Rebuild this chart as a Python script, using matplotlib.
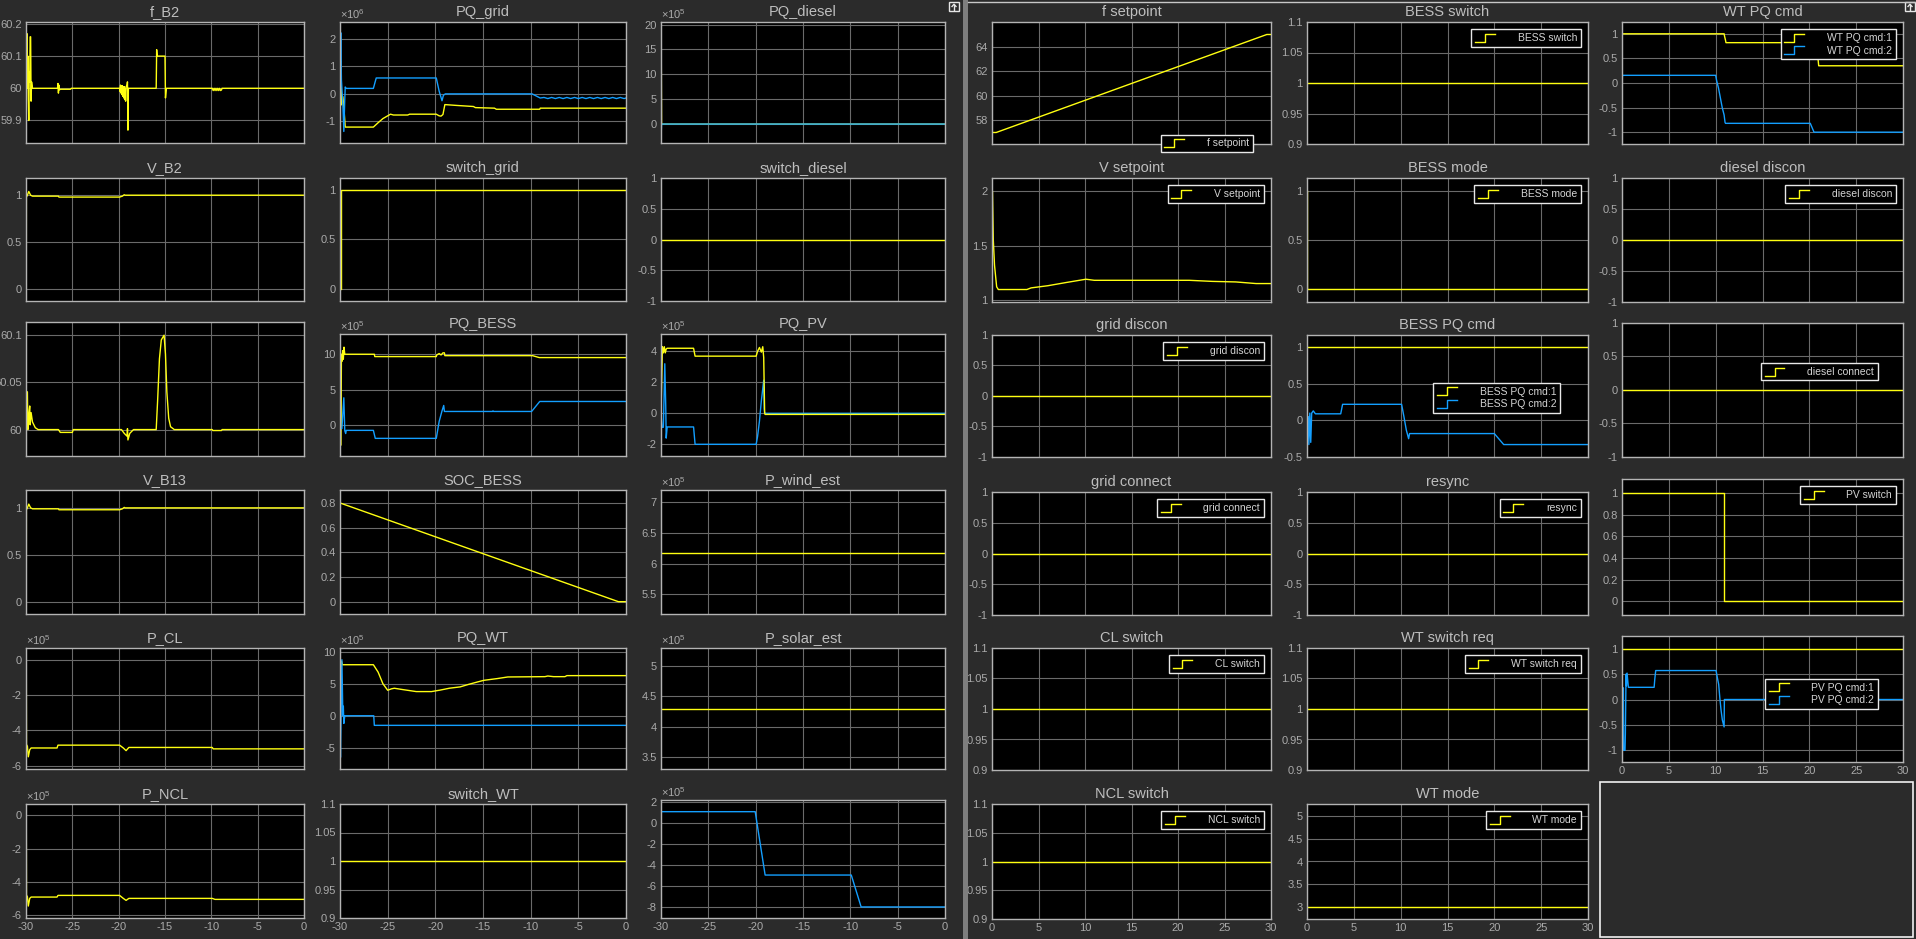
import matplotlib
matplotlib.use("Agg")
import matplotlib.pyplot as plt
from matplotlib.lines import Line2D
from matplotlib.legend_handler import HandlerBase
from matplotlib.patches import Rectangle
from matplotlib.ticker import FuncFormatter

plt.rcParams["font.family"] = ["Liberation Sans", "DejaVu Sans"]

W, H = 1916, 939
BG = "#2b2b2b"
YEL = "#ffff11"
BLU = "#139fff"
GRID = "#6a6a6a"
SPINE = "#b4b4b4"
TICK = "#aaaaaa"
TITLE = "#bebebe"

# ---------------- left scope (t = -30 .. 0) ----------------
f_b2_t = [-30.0, -29.95, -29.9, -29.85, -29.8, -29.75, -29.7, -29.65, -29.6, -29.55, -29.5, -29.45, -29.4, -29.3,
          -26.6, -26.55, -26.5, -26.45, -26.4, -26.3, -25.2, -25.1,
          -19.9, -19.85, -19.8, -19.75, -19.7, -19.65, -19.6, -19.55, -19.5, -19.45, -19.4, -19.35, -19.3, -19.25,
          -19.2, -19.1, -19.05, -19.0, -18.95, -18.9,
          -15.95, -15.9, -15.85, -15.0, -14.95, -14.9, -14.85,
          -9.9, -9.8, -9.7, -9.6, -9.5, -9.4, -9.3, -9.2, -9.1, -9.0, -8.9, -8.85, 0.0]
f_b2_y = [60.0, 60.10, 60.17, 60.0, 60.10, 59.97, 59.90, 60.05, 60.02, 60.16, 60.16, 59.96, 60.02, 60.0,
          60.0, 60.015, 59.985, 60.01, 59.995, 59.997, 59.997, 60.0,
          60.0, 59.99, 60.01, 59.985, 60.008, 59.98, 60.008, 59.975, 60.005, 59.97, 60.005, 59.965, 60.0, 59.96,
          60.005, 60.01, 60.02, 59.87, 60.0, 60.0,
          60.0, 60.12, 60.10, 60.10, 59.97, 59.985, 60.0,
          60.0, 59.993, 60.0, 59.993, 60.0, 59.993, 60.0, 59.993, 60.0, 59.993, 59.995, 60.0, 60.0]

# PQ_grid, x1e6
pq_grid_t_p = [-30.0, -29.92, -29.85, -29.7, -29.6, -29.45, -26.5, -26.0, -25.5, -25.0, -24.7, -24.4, -22.9, -22.7,
               -19.9, -19.6, -19.4, -19.2, -19.0, -17.8, -16.0, -15.8, -13.8, -13.6, -9.05, -9.0, 0.0]
pq_grid_p = [0.0, 1.2, -0.4, -0.1, -0.45, -1.21, -1.21, -1.05, -0.9, -0.8, -0.74, -0.77, -0.77, -0.74,
             -0.74, -0.8, -0.81, -0.75, -0.39, -0.42, -0.46, -0.5, -0.52, -0.56, -0.56, -0.52, -0.52]
pq_grid_t_q = [-30.0, -29.92, -29.85, -29.7, -29.6, -29.5, -29.45, -29.35, -26.5, -26.2, -19.9, -19.6, -19.3, -19.15,
               -18.95, -9.85, -9.0, -8.6, -8.2, -7.8, -7.4, -7.0, -6.6, -6.2, -5.8, -5.4, -5.0, -4.6, -4.2, -3.8,
               -3.4, -3.0, -2.6, -2.2, -1.8, -1.4, -1.0, -0.6, -0.2, 0.0]
pq_grid_q = [0.0, 2.23, 0.5, -0.4, -1.37, -0.2, 0.25, 0.2, 0.2, 0.58, 0.58, 0.1, -0.25, -0.05,
             0.0, 0.0, -0.15, -0.13, -0.17, -0.13, -0.17, -0.13, -0.17, -0.13, -0.17, -0.13, -0.17, -0.13, -0.17,
             -0.13, -0.17, -0.13, -0.17, -0.13, -0.17, -0.13, -0.17, -0.13, -0.17, -0.15]

# PQ_diesel, x1e5
pq_diesel_t = [-29.97, -29.97, -29.94, 0.0]
pq_diesel_p = [18.0, 13.5, 0.0, 0.0]
pq_diesel_q = [13.5, -1.5, 0.0, 0.0]

v_b2_t = [-29.97, -29.96, -29.85, -29.7, -29.5, -29.3, -26.5, -26.45, -19.9, -19.6, -19.4, -19.3, 0.0]
v_b2_y = [0.0, 0.98, 1.0, 1.04, 1.0, 0.99, 0.99, 0.98, 0.98, 0.99, 1.005, 1.0, 1.0]

switch_grid_t = [-30.0, -29.92, -29.92, 0.0]
switch_grid_y = [0.0, 0.0, 1.0, 1.0]

flat_left_t = [-30.0, 0.0]
switch_diesel_y = [0.0, 0.0]

f_b13_t = [-30.0, -29.95, -29.85, -29.8, -29.7, -29.6, -29.55, -29.45, -29.3, -29.0, -28.7, -26.5, -26.3, -25.0,
           -24.9, -19.7, -19.4, -19.1, -19.05, -19.0, -18.8, -18.4, -15.95, -15.8, -15.6, -15.4, -15.1, -14.95,
           -14.8, -14.6, -14.4, -14.0, -9.9, -9.85, -8.9, -8.85, 0.0]
f_b13_y = [59.985, 60.04, 60.04, 60.0, 60.015, 60.025, 60.005, 60.018, 60.008, 60.002, 60.0, 60.0, 59.997, 59.997,
           60.0, 60.0, 59.996, 59.993, 60.001, 59.989, 59.996, 60.0, 60.0, 60.03, 60.075, 60.095, 60.1, 60.08,
           60.04, 60.012, 60.003, 60.0, 60.0, 59.999, 59.999, 60.0, 60.0]

# PQ_BESS, x1e5
pq_bess_t_p = [-29.9, -29.85, -29.8, -29.72, -29.65, -29.58, -29.5, -26.4, -26.35, -19.9, -19.85, -19.6, -19.4,
               -19.2, -19.05, -19.0, -9.8, -9.1, 0.0]
pq_bess_p = [-2.8, 10.0, 9.0, 10.5, 9.3, 11.0, 10.0, 10.0, 9.67, 9.67, 9.9, 10.1, 9.9,
             10.2, 10.2, 9.8, 9.8, 9.53, 9.53]
pq_bess_t_q = [-29.9, -29.8, -29.6, -29.5, -29.4, -29.35, -26.5, -26.3, -19.9, -19.6, -19.3, -19.12, -19.05,
               -14.0, -13.95, -13.9, -9.9, -9.05, 0.0]
pq_bess_q = [-0.5, -0.5, 3.85, -0.8, -1.2, -0.75, -0.75, -1.88, -1.88, 0.5, 2.0, 2.77, 1.92,
             1.92, 2.0, 1.92, 1.92, 3.33, 3.33]

# PQ_PV, x1e5
pq_pv_t_p = [-30.0, -29.85, -29.75, -29.65, -29.55, -29.45, -29.35, -26.56, -26.4, -19.95, -19.8, -19.6, -19.4,
             -19.25, -19.15, -19.05, -19.0, 0.0]
pq_pv_p = [0.0, 4.3, 3.9, 4.3, 3.9, 4.15, 4.2, 4.2, 3.69, 3.69, 4.0, 4.25, 3.95,
           4.3, 3.6, 0.0, -0.07, -0.07]
pq_pv_t_q = [-30.0, -29.9, -29.75, -29.6, -29.5, -29.45, -29.35, -26.56, -26.4, -19.95, -19.8, -19.6, -19.4,
             -19.25, -19.15, -19.1, -19.05, -19.0, 0.0]
pq_pv_q = [0.0, -0.9, -0.9, 3.2, 0.5, -1.6, -0.88, -0.88, -2.0, -2.0, -1.5, -0.5, 0.8,
           1.6, 2.14, 0.3, 0.0, 0.0, 0.0]

v_b13_t = [-29.97, -29.96, -29.85, -29.7, -29.5, -29.3, -26.5, -26.45, -19.9, -19.6, -19.4, -19.3, 0.0]
v_b13_y = [0.0, 0.98, 1.0, 1.04, 1.0, 0.99, 0.99, 0.98, 0.98, 0.99, 1.005, 1.0, 1.0]

soc_t = [-30.0, -0.8, 0.0]
soc_y = [0.8, 0.0, 0.0]

p_wind_y = [6.18, 6.18]     # x1e5
p_solar_y = [4.3, 4.3]      # x1e5
switch_wt_y = [1.0, 1.0]

p_cl_t = [-29.97, -29.95, -29.85, -29.75, -29.6, -29.45, -26.65, -26.55, -19.9, -19.5, -19.2, -18.9, -9.9, -9.8, 0.0]
p_cl_y = [0.0, -4.8, -4.9, -5.5, -5.1, -5.0, -5.0, -4.84, -4.84, -5.0, -5.15, -4.97, -4.97, -5.05, -5.05]

pq_wt_t_p = [-30.0, -29.95, -29.85, -29.75, -26.5, -26.0, -25.5, -25.0, -24.6, -24.3, -23.5, -22.0, -20.4, -19.5,
             -18.5, -17.4, -16.5, -15.5, -14.9, -13.5, -12.4, -8.5, -8.2, -7.6, -6.4, -6.2, 0.0]
pq_wt_p = [0.0, 4.0, 8.5, 7.96, 7.96, 6.8, 5.0, 3.98, 4.2, 4.29, 4.1, 3.77, 3.77, 4.0,
           4.3, 4.5, 4.9, 5.3, 5.53, 5.8, 6.05, 6.1, 6.2, 6.1, 6.1, 6.26, 6.26]
pq_wt_t_q = [-30.0, -29.95, -29.8, -29.7, -29.65, -29.6, -29.5, -26.46, -26.4, 0.0]
pq_wt_q = [0.0, -6.5, 8.74, 0.0, 1.5, -1.2, 0.0, 0.0, -1.5, -1.5]

p_ncl_t = [-29.97, -29.95, -29.85, -29.75, -29.6, -29.45, -26.65, -26.55, -19.9, -19.5, -19.2, -18.9, -9.9, -9.6, 0.0]
p_ncl_y = [0.0, -4.8, -4.9, -5.46, -5.0, -4.92, -4.92, -4.82, -4.82, -5.0, -5.12, -5.0, -5.0, -5.06, -5.06]

q_est_t = [-30.0, -20.05, -19.0, -9.9, -8.86, 0.0]
q_est_y = [1.05, 1.05, -4.97, -4.97, -8.0, -8.0]   # x1e5

# ---------------- right scope (t = 0 .. 30) ----------------
flat_right_t = [0.0, 30.0]
ones_right = [1.0, 1.0]
zeros_right = [0.0, 0.0]

f_set_t = [0.0, 0.45, 29.55, 30.0]
f_set_y = [57.0, 57.0, 65.0, 65.0]

wt_cmd_t_1 = [0.0, 10.9, 10.95, 11.05, 11.1, 20.8, 20.85, 20.95, 21.0, 30.0]
wt_cmd_1 = [1.0, 1.0, 0.95, 0.87, 0.82, 0.82, 0.6, 0.45, 0.35, 0.35]
wt_cmd_t_2 = [0.0, 0.05, 10.0, 10.1, 10.3, 10.5, 10.7, 10.9, 11.0, 11.05, 20.1, 20.5, 30.0]
wt_cmd_2 = [0.0, 0.156, 0.156, 0.05, -0.1, -0.3, -0.5, -0.65, -0.8, -0.82, -0.82, -1.0, -1.0]

v_set_t = [0.0, 0.05, 0.14, 0.27, 0.5, 0.68, 3.75, 4.2, 6.0, 8.0, 10.1, 11.0, 21.2, 23.7, 26.2, 28.4, 30.0]
v_set_y = [2.0, 2.0, 1.55, 1.32, 1.12, 1.095, 1.095, 1.11, 1.13, 1.16, 1.19, 1.18, 1.18, 1.17, 1.165, 1.15, 1.15]

bess_mode_t = [0.0, 0.05, 0.05, 30.0]
bess_mode_y = [1.0, 1.0, 0.0, 0.0]

bess_cmd_t_2 = [0.13, 0.2, 0.3, 0.4, 0.5, 0.67, 0.9, 3.6, 3.8, 10.1, 10.35, 10.6, 10.85, 10.95, 20.0, 21.0, 30.0]
bess_cmd_2 = [0.05, -0.33, 0.1, -0.3, 0.1, 0.13, 0.09, 0.09, 0.22, 0.22, 0.05, -0.13, -0.25, -0.18, -0.18, -0.33, -0.33]

pv_switch_t = [0.0, 10.93, 10.93, 30.0]
pv_switch_y = [1.0, 1.0, 0.0, 0.0]

pv_cmd_t_2 = [0.0, 0.15, 0.18, 0.32, 0.36, 0.43, 0.47, 0.54, 0.68, 3.43, 3.5, 3.6, 10.04, 10.18, 10.32, 10.46,
              10.57, 10.71, 10.9, 10.93, 30.0]
pv_cmd_2 = [0.23, 0.23, -1.0, -1.0, -0.68, 0.5, 0.27, 0.52, 0.24, 0.24, 0.4, 0.57, 0.57, 0.43, 0.3, 0.0,
            -0.2, -0.4, -0.54, 0.0, 0.0]

wt_mode_y = [3.0, 3.0]


class StepHandle(HandlerBase):
    # the little step glyph the Simulink scope uses in its legends
    def create_artists(self, legend, orig_handle, xdescent, ydescent, width, height, fontsize, trans):
        x0, x1 = -xdescent, -xdescent + width
        xm = (x0 + x1) / 2
        y0, y1 = -ydescent - 0.1 * height, -ydescent + 1.0 * height
        ln = Line2D([x0, xm, xm, x1], [y0, y0, y1, y1], color=orig_handle.get_color(), lw=1.0)
        ln.set_transform(trans)
        return [ln]


fmt = FuncFormatter(lambda v, p: f"{round(v, 6) + 0:g}")
LEG = dict(fontsize=7.5, facecolor="black", edgecolor="#e8e8e8", framealpha=1, fancybox=False,
           labelcolor="#d4d4d4", handlelength=1.9, handletextpad=2.2, borderpad=0.35,
           labelspacing=0.25, borderaxespad=0.7, loc="upper right")

fig = plt.figure(figsize=(W / 100, H / 100), dpi=100, facecolor=BG)


def scope(box, xr, ylim, yticks, series, title=None, exp=None, xlab=False, leg=None):
    x0, y0, x1, y1 = box
    ax = fig.add_axes([x0 / W, 1 - y1 / H, (x1 - x0) / W, (y1 - y0) / H])
    ax.set_facecolor("black")
    for t, y, c, lab in series:
        ax.plot(t, y, color=c, lw=1.0, label=lab)
    ax.set_xlim(xr)
    ax.set_ylim(ylim)
    ax.set_xticks(range(xr[0], xr[1] + 1, 5))
    ax.set_yticks(yticks)
    ax.xaxis.set_major_formatter(fmt)
    ax.yaxis.set_major_formatter(fmt)
    ax.grid(True, color=GRID, lw=0.8)
    ax.set_axisbelow(True)
    ax.tick_params(length=0, pad=3, labelsize=8, colors=TICK, labelbottom=xlab)
    for s in ax.spines.values():
        s.set_color(SPINE)
        s.set_linewidth(1.0)
    if title:
        ax.set_title(title, color=TITLE, fontsize=10.5, pad=4)
    if exp:
        ax.annotate("×$\\mathregular{10^{%d}}$" % exp, xy=(0, 1), xycoords="axes fraction",
                    xytext=(0, 2.5), textcoords="offset points", ha="left", va="baseline",
                    color=TICK, fontsize=8)
    if leg is not None:
        kw = {**LEG, **leg}
        lg = ax.legend(handler_map={Line2D: StepHandle()}, **kw)
        lg.get_frame().set_linewidth(1.0)
    return ax


LX = [(26, 304), (340, 626), (661, 945)]
RX = [(992, 1271), (1307, 1588), (1622, 1903)]
LT = [(22, 143), (178, 301), (334, 456), (490, 614), (648, 769), (804, 918)]
RT = [(22, 144), (178, 302), (335, 457), (492, 615), (648, 770), (804, 919)]
LR = (-30, 0)
RR = (0, 30)


def lb(c, r, top=None):
    return (LX[c][0], top if top else LT[r][0], LX[c][1], LT[r][1])


def rb(c, r, top=None, bot=None):
    return (RX[c][0], top if top else RT[r][0], RX[c][1], bot if bot else RT[r][1])


# left scope
scope(lb(0, 0), LR, (59.83, 60.206), [59.9, 60, 60.1, 60.2], [(f_b2_t, f_b2_y, YEL, None)], "f_B2")
scope(lb(1, 0), LR, (-1.79, 2.62), [-1, 0, 1, 2],
      [(pq_grid_t_p, pq_grid_p, YEL, None), (pq_grid_t_q, pq_grid_q, BLU, None)], "PQ_grid", exp=6)
scope(lb(2, 0), LR, (-3.81, 20.53), [0, 5, 10, 15, 20],
      [(pq_diesel_t, pq_diesel_p, YEL, None), (pq_diesel_t, pq_diesel_q, BLU, None)], "PQ_diesel", exp=5)

scope(lb(0, 1), LR, (-0.131, 1.184), [0, 0.5, 1], [(v_b2_t, v_b2_y, YEL, None)], "V_B2")
scope(lb(1, 1), LR, (-0.127, 1.125), [0, 0.5, 1], [(switch_grid_t, switch_grid_y, YEL, None)], "switch_grid")
scope(lb(2, 1), LR, (-1, 1), [-1, -0.5, 0, 0.5, 1], [(flat_left_t, switch_diesel_y, YEL, None)], "switch_diesel")

scope(lb(0, 2, top=322), LR, (59.972, 60.114), [60, 60.05, 60.1], [(f_b13_t, f_b13_y, YEL, None)])
scope(lb(1, 2), LR, (-4.37, 12.86), [0, 5, 10],
      [(pq_bess_t_p, pq_bess_p, YEL, None), (pq_bess_t_q, pq_bess_q, BLU, None)], "PQ_BESS", exp=5)
scope(lb(2, 2), LR, (-2.755, 5.12), [-2, 0, 2, 4],
      [(pq_pv_t_q, pq_pv_q, BLU, None), (pq_pv_t_p, pq_pv_p, YEL, None)], "PQ_PV", exp=5)

scope(lb(0, 3), LR, (-0.128, 1.19), [0, 0.5, 1], [(v_b13_t, v_b13_y, YEL, None)], "V_B13")
scope(lb(1, 3), LR, (-0.1, 0.905), [0, 0.2, 0.4, 0.6, 0.8], [(soc_t, soc_y, YEL, None)], "SOC_BESS")
scope(lb(2, 3), LR, (5.18, 7.2), [5.5, 6, 6.5, 7], [(flat_left_t, p_wind_y, YEL, None)], "P_wind_est", exp=5)

scope(lb(0, 4), LR, (-6.19, 0.66), [-6, -4, -2, 0], [(p_cl_t, p_cl_y, YEL, None)], "P_CL", exp=5)
scope(lb(1, 4), LR, (-8.31, 10.57), [-5, 0, 5, 10],
      [(pq_wt_t_p, pq_wt_p, YEL, None), (pq_wt_t_q, pq_wt_q, BLU, None)], "PQ_WT", exp=5)
scope(lb(2, 4), LR, (3.31, 5.29), [3.5, 4, 4.5, 5], [(flat_left_t, p_solar_y, YEL, None)], "P_solar_est", exp=5)

scope(lb(0, 5), LR, (-6.18, 0.68), [-6, -4, -2, 0], [(p_ncl_t, p_ncl_y, YEL, None)], "P_NCL", exp=5, xlab=True)
scope(lb(1, 5), LR, (0.9, 1.1), [0.9, 0.95, 1, 1.05, 1.1], [(flat_left_t, switch_wt_y, YEL, None)],
      "switch_WT", xlab=True)
scope(lb(2, 5, top=800), LR, (-9.05, 2.16), [-8, -6, -4, -2, 0, 2], [(q_est_t, q_est_y, BLU, None)],
      exp=5, xlab=True)

# right scope
SW = [0.9, 0.95, 1, 1.05, 1.1]
PM = [-1, -0.5, 0, 0.5, 1]
scope(rb(0, 0), RR, (56.06, 66.02), [58, 60, 62, 64], [(f_set_t, f_set_y, YEL, "f setpoint")], "f setpoint",
      leg=dict(loc="lower right", bbox_to_anchor=(0.935, -0.066), borderaxespad=0))
scope(rb(1, 0), RR, (0.9, 1.1), SW, [(flat_right_t, ones_right, YEL, "BESS switch")], "BESS switch", leg={})
scope(rb(2, 0), RR, (-1.24, 1.24), PM,
      [(wt_cmd_t_1, wt_cmd_1, YEL, "WT PQ cmd:1"), (wt_cmd_t_2, wt_cmd_2, BLU, "WT PQ cmd:2")], "WT PQ cmd", leg={})

scope(rb(0, 1), RR, (0.98, 2.123), [1, 1.5, 2], [(v_set_t, v_set_y, YEL, "V setpoint")], "V setpoint", leg={})
scope(rb(1, 1), RR, (-0.13, 1.133), [0, 0.5, 1], [(bess_mode_t, bess_mode_y, YEL, "BESS mode")], "BESS mode", leg={})
scope(rb(2, 1), RR, (-1, 1), PM, [(flat_right_t, zeros_right, YEL, "diesel discon")], "diesel discon", leg={})

scope(rb(0, 2), RR, (-1, 1), PM, [(flat_right_t, zeros_right, YEL, "grid discon")], "grid discon", leg={})
scope(rb(1, 2), RR, (-0.5, 1.167), [-0.5, 0, 0.5, 1],
      [(flat_right_t, ones_right, YEL, "BESS PQ cmd:1"), (bess_cmd_t_2, bess_cmd_2, BLU, "BESS PQ cmd:2")],
      "BESS PQ cmd", leg=dict(bbox_to_anchor=(0.90, 0.607), borderaxespad=0))
scope(rb(2, 2, top=323), RR, (-1, 1), PM, [(flat_right_t, zeros_right, YEL, "diesel connect")],
      leg=dict(bbox_to_anchor=(0.91, 0.70), borderaxespad=0))

scope(rb(0, 3), RR, (-1, 1), PM, [(flat_right_t, zeros_right, YEL, "grid connect")], "grid connect", leg={})
scope(rb(1, 3), RR, (-1, 1), PM, [(flat_right_t, zeros_right, YEL, "resync")], "resync", leg={})
scope(rb(2, 3, top=479), RR, (-0.127, 1.13), [0, 0.2, 0.4, 0.6, 0.8, 1],
      [(pv_switch_t, pv_switch_y, YEL, "PV switch")], leg={})

scope(rb(0, 4), RR, (0.9, 1.1), SW, [(flat_right_t, ones_right, YEL, "CL switch")], "CL switch", leg={})
scope(rb(1, 4), RR, (0.9, 1.1), SW, [(flat_right_t, ones_right, YEL, "WT switch req")], "WT switch req", leg={})
scope(rb(2, 4, top=636, bot=762), RR, (-1.23, 1.25), PM,
      [(flat_right_t, ones_right, YEL, "PV PQ cmd:1"), (pv_cmd_t_2, pv_cmd_2, BLU, "PV PQ cmd:2")],
      xlab=True, leg=dict(bbox_to_anchor=(0.911, 0.659), borderaxespad=0))

scope(rb(0, 5), RR, (0.9, 1.1), SW, [(flat_right_t, ones_right, YEL, "NCL switch")], "NCL switch",
      xlab=True, leg={})
scope(rb(1, 5), RR, (2.73, 5.27), [3, 3.5, 4, 4.5, 5], [(flat_right_t, wt_mode_y, YEL, "WT mode")], "WT mode",
      xlab=True, leg={})


# window chrome: divider, frame line, undock buttons, empty cell
def frect(x0, y0, x1, y1, **kw):
    fig.add_artist(Rectangle((x0 / W, 1 - y1 / H), (x1 - x0) / W, (y1 - y0) / H,
                             transform=fig.transFigure, **kw))


frect(963, 0, 968, H, facecolor="#7e7e7e", edgecolor="none")
fig.add_artist(Line2D([968 / W, 1], [1 - 1.5 / H, 1 - 1.5 / H], transform=fig.transFigure,
                      color="#c8c8c8", lw=1.0))
for bx in (949, 1905):
    frect(bx, 2, bx + 10, 11, facecolor="none", edgecolor="#e6e6e6", lw=1.0)
    fig.add_artist(Line2D([(bx + 5) / W, (bx + 5) / W], [1 - 10 / H, 1 - 4.5 / H],
                          transform=fig.transFigure, color="#e6e6e6", lw=1.0))
    fig.add_artist(Line2D([(bx + 3) / W, (bx + 5) / W, (bx + 7) / W], [1 - 6.5 / H, 1 - 4.2 / H, 1 - 6.5 / H],
                          transform=fig.transFigure, color="#e6e6e6", lw=1.0))
frect(1600, 782, 1913, 937, facecolor=BG, edgecolor="#f0f0f0", lw=1.2)

fig.savefig("out.png", dpi=100, facecolor=BG)
